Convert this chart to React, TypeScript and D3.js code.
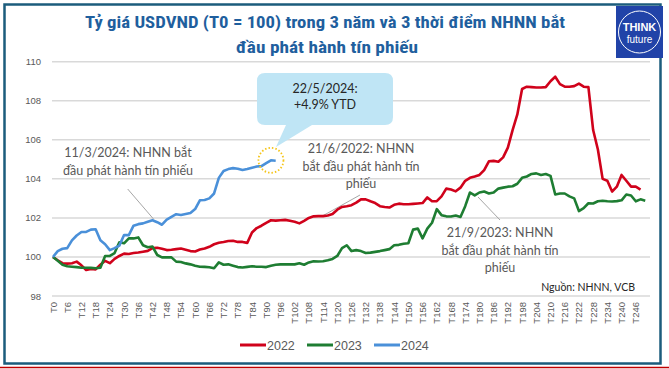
import React from "react";
import * as d3 from "d3";

// values every 2 trading days (T0, T2, T4, ...)
const STEP = 2;
const LAST_T = 252;

const series2022: number[] = [
  100, 99.83, 99.68, 99.66, 99.68, 99.76, 99.57, 99.33, 99.38, 99.36,
  99.6, 99.8, 99.68, 99.9, 100.05, 100.17, 100.15, 100.2, 100.23, 100.27,
  100.31, 100.45, 100.47, 100.42, 100.35, 100.37, 100.4, 100.43, 100.37, 100.3,
  100.28, 100.38, 100.43, 100.52, 100.65, 100.73, 100.77, 100.82, 100.83, 100.77,
  100.77, 100.72, 101.25, 101.48, 101.6, 101.75, 101.88, 101.86, 101.88, 101.9,
  101.85, 101.8, 101.72, 101.85, 102.0, 102.08, 102.09, 102.09, 102.12, 102.2,
  102.42, 102.56, 102.6, 102.65, 102.78, 102.95, 102.95, 102.85, 102.76, 102.6,
  102.56, 102.53, 102.67, 102.73, 102.7, 102.7, 102.72, 102.74, 102.76, 103.05,
  102.85, 102.86, 103.1, 103.5, 103.45, 103.36, 103.55, 103.9, 104.05, 104.12,
  104.2, 104.45, 104.9, 104.92, 104.88, 105.1, 105.6, 106.5, 107.3, 108.6,
  108.72, 108.7, 108.68, 108.68, 108.7, 109.0, 109.23, 108.85, 108.72, 108.72,
  108.75, 108.88, 108.72, 108.7, 106.5, 105.5, 104.0, 103.9, 103.35, 103.6,
  104.2, 103.9, 103.6, 103.6, 103.45,
];

const series2023: number[] = [
  100, 99.8, 99.6, 99.52, 99.5, 99.48, 99.45, 99.45, 99.44, 99.42,
  99.45, 100.05, 100.05, 100.2, 100.75, 100.7, 100.95, 100.95, 101.0, 100.6,
  100.5, 100.53, 100.1, 99.98, 99.98, 99.98, 99.76, 99.74, 99.67, 99.62,
  99.55, 99.5, 99.49, 99.47, 99.42, 99.72, 99.6, 99.62, 99.55, 99.48,
  99.46, 99.49, 99.52, 99.5, 99.5, 99.48, 99.55, 99.6, 99.62, 99.62,
  99.63, 99.62, 99.68, 99.6, 99.72, 99.78, 99.77, 99.78, 99.83, 99.9,
  100.05, 100.45, 100.6, 100.3, 100.35, 100.3, 100.2, 100.22, 100.26, 100.3,
  100.35, 100.4, 100.6, 100.62, 100.68, 100.7, 101.4, 101.45, 100.95, 101.45,
  101.75, 102.45, 102.14, 102.08, 102.07, 102.12, 102.05, 102.6, 103.3, 103.15,
  103.3, 103.35, 103.25, 103.3, 103.5, 103.55, 103.6, 103.62, 103.75, 104.05,
  104.12, 104.25, 104.28, 104.2, 104.25, 104.15, 103.2, 103.25, 103.25, 103.1,
  103.0, 102.35, 102.5, 102.75, 102.74, 102.85, 102.88, 102.85, 102.84, 102.86,
  102.9, 103.2, 103.15, 102.85, 102.95, 102.88,
];

const series2024: number[] = [
  100, 100.3, 100.42, 100.45, 100.85, 101.1, 101.28, 101.28, 101.4, 101.42,
  100.85, 100.65, 100.35, 100.45, 100.58, 101.12, 101.12, 101.6, 101.68, 101.72,
  101.8, 101.88, 101.78, 101.65, 101.91, 102.05, 102.19, 102.15, 102.2, 102.25,
  102.45, 102.9, 102.92, 103.0, 103.25, 104.05, 104.4, 104.5, 104.55, 104.52,
  104.45, 104.5, 104.57, 104.63, 104.65, 104.8, 104.95, 104.93,
];

const seriesNames = ["2022", "2023", "2024"];
const seriesColors = ["#d0021b", "#1e7d32", "#4a90d9"];
const yTicks = [98, 100, 102, 104, 106, 108, 110];
const xTickLabels = d3.range(0, 247, 6).map((t) => `T${t}`);

const W = 669;
const H = 369;
const FONT = "'Liberation Sans', Arial, sans-serif";
const NOTE_FONT = "Lato, 'Open Sans', sans-serif";

const App: React.FC = () => {
  const x = d3.scaleLinear().domain([0, LAST_T]).range([53, 650]);
  const y = d3.scaleLinear().domain([98, 110]).range([296, 61.7]);

  const line = d3
    .line<number>()
    .x((_, i) => x(i * STEP))
    .y((d) => y(d))
    .curve(d3.curveLinear);

  const allSeries = [series2022, series2023, series2024];

  // 22/5/2024 end point, highlighted by the dotted circle
  const lastBlueT = (series2024.length - 1) * STEP;
  const hx = x(lastBlueT - 2);
  const hy = y(series2024[series2024.length - 2]);

  const legendX = [240, 307, 374];

  return (
    <svg
      width={W}
      height={H}
      style={{ position: "fixed", left: 0, top: 0, background: "#fff" }}
    >
      {/* frame */}
      <rect x={4.5} y={4.5} width={656} height={359} fill="#fff" stroke="#1b5c7c" strokeWidth={2.5} />
      <line x1={0} x2={W} y1={367.5} y2={367.5} stroke="#c00000" strokeWidth={1.5} />

      {/* title */}
      <g fill="#1f5f9e" fontFamily="'Liberation Sans Narrow', 'Roboto Condensed', Roboto, sans-serif" fontWeight="bold" fontSize={17} textAnchor="middle">
        <text x={325} y={28} textLength={480} lengthAdjust="spacingAndGlyphs">
          Tỷ giá USDVND (T0 = 100) trong 3 năm và 3 thời điểm NHNN bắt
        </text>
        <text x={327} y={53} textLength={182} lengthAdjust="spacingAndGlyphs">
          đầu phát hành tín phiếu
        </text>
      </g>

      {/* logo */}
      <g>
        <rect x={616} y={6} width={47} height={52} fill="#2143a8" />
        <circle cx={639.5} cy={32} r={21} fill="none" stroke="#fff" strokeWidth={1} />
        <text x={639.5} y={31} fill="#fff" fontFamily={FONT} fontWeight="bold" fontSize={11} textAnchor="middle">THINK</text>
        <text x={639.5} y={43} fill="#fff" fontFamily={FONT} fontSize={10} textAnchor="middle">future</text>
      </g>

      {/* grid + y axis */}
      {yTicks.map((t) => (
        <g key={t}>
          <line x1={52} x2={650} y1={y(t)} y2={y(t)} stroke="#d9d9d9" strokeWidth={1.5} />
          <text x={41} y={y(t) + 3.5} fill="#595959" fontFamily={FONT} fontSize={9.5} textAnchor="end">
            {t}
          </text>
        </g>
      ))}

      {/* x axis labels */}
      {xTickLabels.map((lab, i) => (
        <text
          key={lab}
          transform={`translate(${x(i * 6) + 3.5},302) rotate(-90)`}
          fill="#595959"
          fontFamily={FONT}
          fontSize={9.5}
          textAnchor="end"
        >
          {lab}
        </text>
      ))}

      {/* source */}
      <text x={635} y={291} fill="#262626" fontFamily={NOTE_FONT} fontSize={10.5} textAnchor="end">
        Nguồn: NHNN, VCB
      </text>

      {/* leader lines */}
      <g stroke="#a6a6a6" strokeWidth={1}>
        <line x1={127.7} y1={189} x2={153.5} y2={219} />
        <line x1={360} y1={195} x2={321.5} y2={216.5} />
        <line x1={478} y1={197} x2={500} y2={220} />
      </g>

      {/* series */}
      {allSeries.map((s, i) => (
        <path
          key={seriesNames[i]}
          d={line(s) || ""}
          fill="none"
          stroke={seriesColors[i]}
          strokeWidth={2.6}
          strokeLinejoin="round"
        />
      ))}

      {/* annotations */}
      <g fill="#595959" fontFamily={NOTE_FONT} fontSize={12.5} textAnchor="middle">
        <text x={128} y={157}>11/3/2024: NHNN bắt</text>
        <text x={128} y={175}>đầu phát hành tín phiếu</text>

        <text x={361} y={153}>21/6/2022: NHNN</text>
        <text x={361} y={170.5}>bắt đầu phát hành tín</text>
        <text x={361} y={188}>phiếu</text>

        <text x={500} y={237}>21/9/2023: NHNN</text>
        <text x={500} y={254.5}>bắt đầu phát hành tín</text>
        <text x={500} y={272}>phiếu</text>
      </g>

      {/* callout */}
      <path
        d="M265,73 H385 Q393,73 393,81 V117 Q393,125 385,125 H312 L276,147 L286,125 H265 Q257,125 257,117 V81 Q257,73 265,73 Z"
        fill="#bfe5f5"
      />
      <g fill="#262626" fontFamily={NOTE_FONT} fontSize={12.5} textAnchor="middle">
        <text x={325} y={93}>22/5/2024:</text>
        <text x={325} y={109}>+4.9% YTD</text>
      </g>
      <circle cx={hx} cy={hy} r={12.5} fill="none" stroke="#f5c518" strokeWidth={1.8} strokeDasharray="1.5 2" />

      {/* legend */}
      {seriesNames.map((n, i) => (
        <g key={n}>
          <line x1={legendX[i]} x2={legendX[i] + 26} y1={345} y2={345} stroke={seriesColors[i]} strokeWidth={3} />
          <text x={legendX[i] + 27} y={349.5} fill="#595959" fontFamily={FONT} fontSize={12.5}>
            {n}
          </text>
        </g>
      ))}
    </svg>
  );
};

export default App;
